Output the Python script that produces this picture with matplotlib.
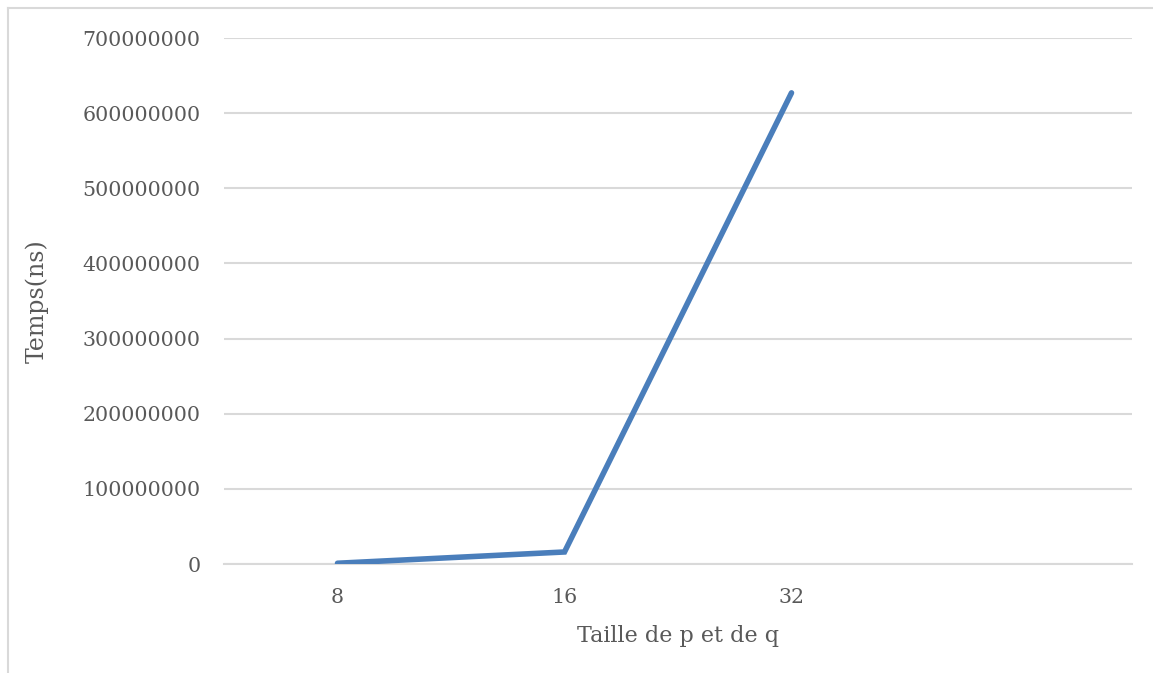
import matplotlib
matplotlib.use('Agg')
import matplotlib.pyplot as plt
from matplotlib.lines import Line2D

# data
categories = ['8', '16', '32', '']
temps_ns = [1000000, 16000000, 627000000]
y_ticks = [0, 100000000, 200000000, 300000000, 400000000, 500000000, 600000000, 700000000]

txt = '#595959'
grid = '#d9d9d9'
plt.rcParams['font.family'] = ['DejaVu Serif']

fig = plt.figure(figsize=(11.53, 6.73), dpi=100)
ax = fig.add_axes([224/1153, 1-564/673, (1132-224)/1153, (564-38)/673])

x = list(range(len(categories)))
ax.plot(x[:len(temps_ns)], temps_ns, color='#4a7ebb', lw=4, solid_capstyle='round', solid_joinstyle='miter', zorder=3)

ax.set_xlim(-0.5, len(categories) - 0.5)
ax.set_ylim(0, 700000000)
ax.set_xticks(x)
ax.set_xticklabels(categories)
ax.set_yticks(y_ticks)
ax.set_yticklabels([str(v) for v in y_ticks])
ax.tick_params(length=0, labelsize=14.8, colors=txt)
ax.tick_params(axis='y', pad=17)
ax.tick_params(axis='x', pad=17)
ax.grid(axis='y', color=grid, lw=1.5)
ax.set_axisbelow(True)
for s in ['top', 'right', 'left']:
    ax.spines[s].set_visible(False)
ax.spines['bottom'].set_color(grid)
ax.spines['bottom'].set_linewidth(1.5)

ax.set_xlabel('Taille de p et de q', fontsize=16, color=txt, labelpad=13)
ax.set_ylabel('Temps(ns)', fontsize=17, color=txt, labelpad=24)

# chart border (only top and left visible)
fig.add_artist(Line2D([8/1153, 8/1153], [0, 1-8/673], color=grid, lw=1.5, transform=fig.transFigure))
fig.add_artist(Line2D([8/1153, 1], [1-8/673, 1-8/673], color=grid, lw=1.5, transform=fig.transFigure))

fig.savefig('out.png', dpi=100, facecolor='white')
